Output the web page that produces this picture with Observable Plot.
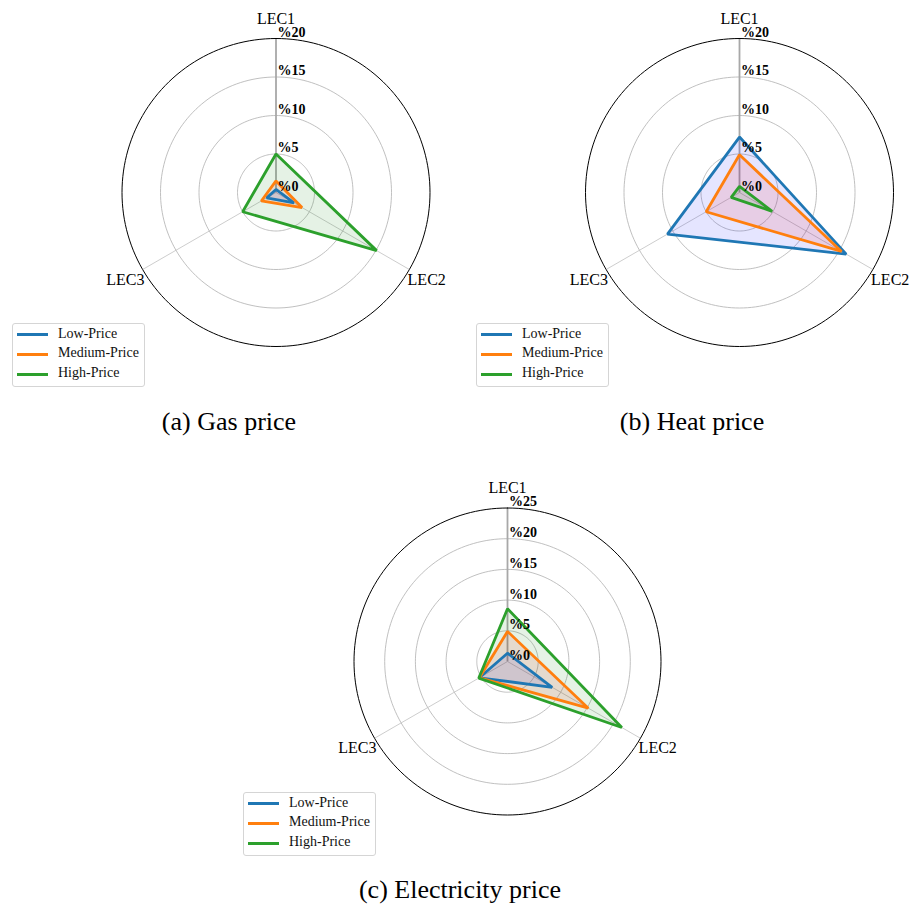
<!DOCTYPE html>
<html>
<head>
<meta charset="utf-8">
<script src="https://cdn.jsdelivr.net/npm/d3@7"></script>
<script src="https://cdn.jsdelivr.net/npm/@observablehq/plot@0.6"></script>
<style>
  html, body { margin: 0; padding: 0; background: white; overflow: hidden; }
  #page { position: relative; width: 909px; height: 907px; font-family: "Liberation Serif", "Times New Roman", serif; }
  .chart { position: absolute; }
  .caption { position: absolute; font-size: 26px; transform: translate(-50%, -50%); white-space: nowrap; color: #000; }
  .legend { position: absolute; box-sizing: border-box; border: 1px solid #d5d5d5; border-radius: 3px; background: rgba(255,255,255,0.8); }
  .legend .sw { position: absolute; height: 3px; }
  .legend .lb { position: absolute; font-size: 14px; line-height: 14px; transform: translateY(-55%); white-space: nowrap; color: #111; }
</style>
</head>
<body>
<div id="page"></div>
<script>
// ---- data ----
const categories = ["LEC1", "LEC2", "LEC3"];
const series = ["Low-Price", "Medium-Price", "High-Price"];
const lineColors = ["#1f77b4", "#ff7f0e", "#2ca02c"];
const fillColors = ["blue", "red", "green"];

// (a) Gas price (%)
const gasLow = [0.4, 2.7, 1.4];
const gasMedium = [1.5, 3.9, 2.2];
const gasHigh = [5.0, 15.1, 5.0];
const gasTicks = [0, 5, 10, 15, 20];

// (b) Heat price (%)
const heatLow = [7.2, 16.0, 10.8];
const heatMedium = [4.9, 15.3, 5.0];
const heatHigh = [0.8, 4.9, 1.25];
const heatTicks = [0, 5, 10, 15, 20];

// (c) Electricity price (%)
const elecLow = [1.35, 8.4, 5.3];
const elecMedium = [4.9, 15.2, 5.3];
const elecHigh = [8.6, 21.5, 5.4];
const elecTicks = [0, 5, 10, 15, 20, 25];

const captions = ["(a) Gas price", "(b) Heat price", "(c) Electricity price"];

// ---- layout ----
const charts = [
  {values: [gasLow, gasMedium, gasHigh], ticks: gasTicks, cx: 275.5, cy: 192, R: 154,
   L: 60, T: 0, W: 420, H: 400, legend: {left: 12, top: 323}, caption: {x: 229, y: 422}},
  {values: [heatLow, heatMedium, heatHigh], ticks: heatTicks, cx: 739, cy: 192, R: 154,
   L: 530, T: 0, W: 379, H: 400, legend: {left: 476, top: 323}, caption: {x: 692, y: 422}},
  {values: [elecLow, elecMedium, elecHigh], ticks: elecTicks, cx: 507, cy: 661, R: 153.5,
   L: 300, T: 462, W: 420, H: 330, legend: {left: 243, top: 792}, caption: {x: 460, y: 890}}
];

const font = "Liberation Serif";
const page = document.getElementById("page");

function ang(i) { return i * 2 * Math.PI / categories.length; }

charts.forEach((c, ci) => {
  const max = d3.max(c.ticks);
  const k = c.R / max; // px per unit
  const xDomain = [(c.L - c.cx) / k, (c.L + c.W - c.cx) / k];
  const yDomain = [(c.cy - (c.T + c.H)) / k, (c.cy - c.T) / k];

  // grid rings
  const ringPts = [];
  c.ticks.filter(t => t > 0).forEach(t => {
    d3.range(0, 361, 2).forEach(a => {
      const r = a * Math.PI / 180;
      ringPts.push({ring: t, x: t * Math.sin(r), y: t * Math.cos(r)});
    });
  });

  // polygon points
  const polys = [];
  c.values.forEach((vals, si) => {
    vals.forEach((v, i) => {
      polys.push({series: series[si], si, x: v * Math.sin(ang(i)), y: v * Math.cos(ang(i))});
    });
  });

  const marks = [
    Plot.line(ringPts.filter(d => d.ring < max), {x: "x", y: "y", z: "ring", stroke: "#b0b0b0", strokeWidth: 0.8}),
    Plot.link(categories, {
      x1: 0, y1: 0,
      x2: (d, i) => max * Math.sin(ang(i)),
      y2: (d, i) => max * Math.cos(ang(i)),
      stroke: (d, i) => i === 0 ? "#a8a8a8" : "#c0c0c0",
      strokeWidth: (d, i) => i === 0 ? 1.8 : 0.8
    }),
  ];
  // fills
  series.forEach((s, si) => {
    marks.push(Plot.line(polys.filter(d => d.si === si), {
      x: "x", y: "y", curve: "linear-closed", fill: fillColors[si], fillOpacity: 0.1, stroke: "none"
    }));
  });
  // outlines
  series.forEach((s, si) => {
    marks.push(Plot.line(polys.filter(d => d.si === si), {
      x: "x", y: "y", curve: "linear-closed", stroke: lineColors[si], strokeWidth: 2.8, strokeLinejoin: "miter"
    }));
  });
  // outer spine
  marks.push(Plot.line(ringPts.filter(d => d.ring === max), {x: "x", y: "y", stroke: "black", strokeWidth: 1}));
  // tick labels
  marks.push(Plot.text(c.ticks, {
    x: 0, y: d => d, text: d => "%" + d, textAnchor: "start", dx: 1.5, dy: -6,
    fontWeight: "bold", fontSize: 14, fontFamily: font, fill: "black"
  }));
  // category labels
  marks.push(Plot.text(categories, {
    x: (d, i) => max * 1.13 * Math.sin(ang(i)),
    y: (d, i) => max * 1.13 * Math.cos(ang(i)),
    dy: (0),
    text: d => d, fontSize: 16, fontFamily: font, fill: "black"
  }));

  const svg = Plot.plot({
    width: c.W, height: c.H, margin: 0,
    x: {domain: xDomain, axis: null},
    y: {domain: yDomain, axis: null},
    style: {background: "transparent", overflow: "visible", maxWidth: "none", fontFamily: font},
    marks
  });
  svg.classList.add("chart");
  svg.style.left = c.L + "px";
  svg.style.top = c.T + "px";
  page.appendChild(svg);

  // legend
  const lg = document.createElement("div");
  lg.className = "legend";
  lg.style.left = c.legend.left + "px";
  lg.style.top = c.legend.top + "px";
  lg.style.width = "133px";
  lg.style.height = "64px";
  series.forEach((s, si) => {
    const y = 10.5 + si * 19.8;
    const sw = document.createElement("div");
    sw.className = "sw";
    sw.style.left = "3.5px"; sw.style.width = "31.5px";
    sw.style.top = Math.round(y - 1.5) + "px";
    sw.style.background = lineColors[si];
    lg.appendChild(sw);
    const lb = document.createElement("div");
    lb.className = "lb";
    lb.style.left = "45px";
    lb.style.top = y + "px";
    lb.textContent = s;
    lg.appendChild(lb);
  });
  page.appendChild(lg);

  // caption
  const cap = document.createElement("div");
  cap.className = "caption";
  cap.style.left = c.caption.x + "px";
  cap.style.top = c.caption.y + "px";
  cap.textContent = captions[ci];
  page.appendChild(cap);
});
</script>
</body>
</html>
